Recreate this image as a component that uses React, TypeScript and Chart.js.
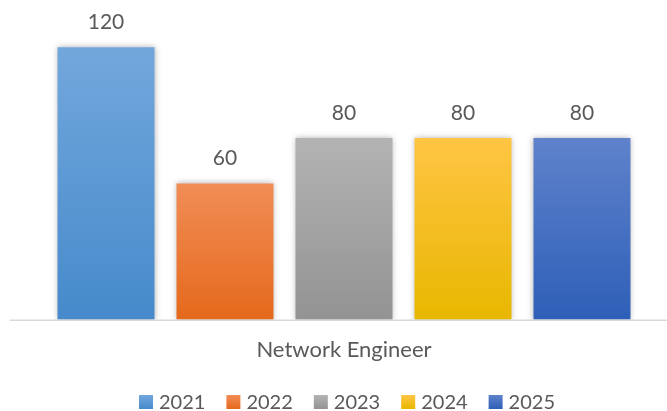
import React, { useEffect, useRef } from "react";
import { Chart, registerables } from "chart.js";

Chart.register(...registerables);

const categories = ["Network Engineer"];
const years = ["2021", "2022", "2023", "2024", "2025"];
const values = [120, 60, 80, 80, 80];
const topColors = ["#72a7dc", "#f18d56", "#b3b3b3", "#ffc544", "#5f82cb"];
const bottomColors = ["#468acb", "#e5691c", "#939393", "#e8b700", "#2e5fb8"];
const yMax = 140;

const FONT = "Lato, 'Open Sans', sans-serif";
const TEXT = "#595959";

export default function App() {
  const ref = useRef<HTMLCanvasElement | null>(null);

  useEffect(() => {
    document.body.style.margin = "0";
    const canvas = ref.current;
    if (!canvas) return;

    const grad = (i: number) => (ctx: any) => {
      const chart = ctx.chart;
      const ys = chart.scales && chart.scales.y;
      if (!chart.chartArea || !ys) return topColors[i];
      const v = ctx.raw as number;
      const top = ys.getPixelForValue(v);
      const base = ys.getPixelForValue(0);
      const g = chart.ctx.createLinearGradient(0, top, 0, base);
      g.addColorStop(0, topColors[i]);
      g.addColorStop(1, bottomColors[i]);
      return g;
    };

    const shadowPlugin = {
      id: "shadow",
      beforeDatasetsDraw(chart: any) {
        const c = chart.ctx;
        c.save();
        c.shadowColor = "rgba(0,0,0,0.3)";
        c.shadowBlur = 6;
        c.shadowOffsetX = 0;
        c.shadowOffsetY = 0;
      },
      afterDatasetsDraw(chart: any) {
        chart.ctx.restore();
      },
    };

    const axisLinePlugin = {
      id: "axisLine",
      beforeDatasetsDraw(chart: any) {
        const c = chart.ctx;
        const y = chart.scales.y.getPixelForValue(0);
        c.save();
        c.strokeStyle = "#d9d9d9";
        c.lineWidth = 1.5;
        c.beginPath();
        c.moveTo(10, y + 0.75);
        c.lineTo(chart.width, y + 0.75);
        c.stroke();
        c.restore();
      },
    };

    const labelPlugin = {
      id: "valueLabels",
      afterDraw(chart: any) {
        const c = chart.ctx;
        c.save();
        c.font = `21px ${FONT}`;
        c.fillStyle = TEXT;
        c.textAlign = "center";
        c.textBaseline = "alphabetic";
        chart.data.datasets.forEach((ds: any, di: number) => {
          const meta = chart.getDatasetMeta(di);
          meta.data.forEach((el: any, j: number) => {
            c.fillText(String(ds.data[j]), el.x, el.y - 18);
          });
        });
        c.restore();
      },
    };

    const legendPlugin = {
      id: "customLegend",
      afterDraw(chart: any) {
        const c = chart.ctx;
        const box = 14;
        const gapText = 6;
        const gapItem = 21;
        c.save();
        c.font = `20px ${FONT}`;
        const widths = years.map((y) => box + gapText + c.measureText(y).width);
        const total = widths.reduce((a, b) => a + b, 0) + gapItem * (years.length - 1);
        const ca = chart.chartArea;
        let x = (ca.left + ca.right) / 2 - total / 2 + 3;
        const cy = chart.height - 9;
        years.forEach((y, i) => {
          const g = c.createLinearGradient(0, cy - box / 2, 0, cy + box / 2);
          g.addColorStop(0, topColors[i]);
          g.addColorStop(1, bottomColors[i]);
          c.fillStyle = g;
          c.fillRect(x, cy - box / 2, box, box);
          c.fillStyle = TEXT;
          c.textAlign = "left";
          c.textBaseline = "middle";
          c.fillText(y, x + box + gapText, cy + 1);
          x += widths[i] + gapItem;
        });
        c.restore();
      },
    };

    const chart = new Chart(canvas, {
      type: "bar",
      data: {
        labels: categories,
        datasets: years.map((y, i) => ({
          label: y,
          data: [values[i]],
          backgroundColor: grad(i),
          borderWidth: 0,
          categoryPercentage: 0.921,
          barPercentage: 0.815,
        })),
      },
      options: {
        animation: false,
        responsive: false,
        maintainAspectRatio: false,
        layout: { padding: { left: 21, right: 0, top: 2, bottom: 39 } },
        scales: {
          x: {
            grid: { display: false },
            border: { display: false },
            ticks: {
              color: TEXT,
              font: { family: FONT, size: 22 },
              padding: 9,
            },
          },
          y: { display: false, min: 0, max: yMax },
        },
        plugins: {
          legend: { display: false },
          tooltip: { enabled: false },
        },
      },
      plugins: [axisLinePlugin, shadowPlugin, labelPlugin, legendPlugin],
    });

    return () => chart.destroy();
  }, []);

  return (
    <div style={{ width: 667, height: 411 }}>
      <canvas ref={ref} width={667} height={411} style={{ width: 667, height: 411 }} />
    </div>
  );
}
